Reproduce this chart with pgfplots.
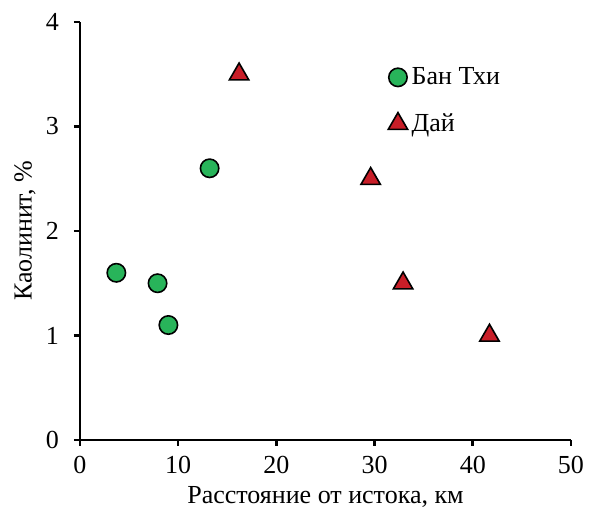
\documentclass[border=0pt]{standalone}
\usepackage{pgfplots}
\pgfplotsset{compat=1.18}
\usepackage{fontspec}
\setmainfont{Liberation Serif}
\definecolor{mgreen}{RGB}{40,180,90}
\definecolor{mred}{RGB}{200,30,40}
\begin{document}
\begin{tikzpicture}
\begin{axis}[
  width=245.5pt, height=209pt, scale only axis,
  xmin=0, xmax=50, ymin=0, ymax=4,
  xtick={0,10,...,50}, ytick={0,1,2,3,4},
  axis x line=bottom, axis y line=left,
  axis line style={line width=1.3pt, -},
  tick align=outside, major tick length=3pt,
  tick style={line width=1.3pt, black},
  every tick label/.style={font=\fontsize{13}{15}\selectfont},
  xticklabel style={yshift=-1.5pt},
  yticklabel style={xshift=-4pt},
  /pgf/number format/assume math mode=true,
  xlabel={Расстояние от истока, км},
  ylabel={Каолинит, \%},
  label style={font=\fontsize{13}{15}\selectfont},
  xlabel style={at={(axis description cs:0.5,0)}, anchor=center, yshift=-28.5pt},
  ylabel style={at={(axis description cs:0,0.5)}, anchor=center, yshift=27.5pt},
  legend style={draw=none, fill=none, at={(0.627,0.902)}, anchor=north west,
    font=\fontsize{13}{15}\selectfont, row sep=9pt, inner sep=0pt,
    /tikz/every even column/.append style={column sep=0pt}},
  legend cell align=left,
  legend image code/.code={\draw[#1] plot coordinates {(0.3em,0pt)};},
  clip=false,
]
\addplot[only marks, mark=*, mark size=4.6pt, mark options={fill=mgreen, draw=black, line width=0.8pt}]
  coordinates {(3.7,1.6) (7.9,1.5) (9.0,1.1) (13.2,2.6)};
\addlegendentry{Бан Тхи}
\addplot[only marks, mark=triangle*, mark size=5.6pt, mark options={fill=mred, draw=black, line width=0.8pt}]
  coordinates {(16.2,3.5) (29.6,2.5) (32.9,1.5) (41.7,1.0)};
\addlegendentry{Дай}
\coordinate (ll) at (rel axis cs:0,0);
\coordinate (ur) at (rel axis cs:1,1);
\end{axis}
\pgfresetboundingbox
\path[use as bounding box] ([xshift=-40pt,yshift=-40.5pt]ll) rectangle ([xshift=9.5pt,yshift=11pt]ur);
\end{tikzpicture}
\end{document}
